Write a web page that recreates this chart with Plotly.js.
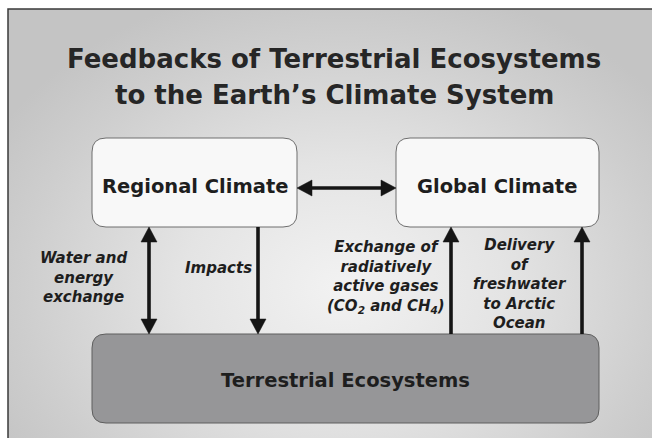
<!DOCTYPE html>
<html>
<head>
<meta charset="utf-8">
<script src="https://cdn.plot.ly/plotly-3.0.1.min.js"></script>
<style>
  html, body { margin: 0; padding: 0; background: #ffffff; }
  #wrap { position: relative; width: 652px; height: 438px; overflow: hidden; }
  #bg { position: absolute; left: 8px; top: 9px; width: 700px; height: 440px;
        background: radial-gradient(ellipse 400px 310px at 335px 278px, #f2f2f2 0%, #e4e4e4 40%, #cecece 80%, #c4c4c4 100%); }
  #chart { position: absolute; left: 0; top: 0; width: 652px; height: 438px; }
</style>
</head>
<body>
<div id="wrap"><div id="bg"></div><div id="chart"></div></div>
<script>
// ---- content ----
const titleLines = ['Feedbacks of Terrestrial Ecosystems', 'to the Earth\u2019s Climate System'];
const nodeNames = ['Regional Climate', 'Global Climate', 'Terrestrial Ecosystems'];
const linkLabels = [
  'Water and<br>energy<br>exchange',
  'Impacts',
  'Exchange of<br>radiatively<br>active gases<br>(CO<sub>2</sub> and CH<sub>4</sub>)',
  'Delivery<br>of<br>freshwater<br>to Arctic<br>Ocean'
];

// ---- layout geometry (pixel-like coordinates, y downward) ----
const boxes = [
  {x0: 92, x1: 297, y0: 138, y1: 227, r: 14, fill: '#f8f8f8', line: '#6e6e6e', tx: 195, ty: 186},
  {x0: 396, x1: 599, y0: 138, y1: 227, r: 14, fill: '#f8f8f8', line: '#6e6e6e', tx: 497, ty: 186},
  {x0: 92, x1: 599, y0: 334, y1: 423, r: 14, fill: '#969698', line: '#5e5e5e', tx: 345, ty: 380}
];
const labelPos = [
  {x: 83, y: 277}, {x: 218, y: 268}, {x: 386, y: 277}, {x: 520, y: 284}
];
// arrows: [x0,y0,x1,y1, headAtStart, headAtEnd]
const arrows = [
  [297, 188, 396, 188, true, true],
  [149, 227, 149, 334, true, true],
  [258, 227, 258, 334, false, true],
  [451, 334, 451, 227, false, true],
  [582, 334, 582, 227, false, true]
];

function roundRect(b) {
  const {x0, x1, y0, y1, r} = b;
  return `M${x0 + r},${y0} L${x1 - r},${y0} Q${x1},${y0} ${x1},${y0 + r} L${x1},${y1 - r} Q${x1},${y1} ${x1 - r},${y1} L${x0 + r},${y1} Q${x0},${y1} ${x0},${y1 - r} L${x0},${y0 + r} Q${x0},${y0} ${x0 + r},${y0} Z`;
}

const shapes = [];
// outer frame
shapes.push({type: 'rect', xref: 'x', yref: 'y', x0: 8, x1: 700, y0: 9, y1: 445,
  line: {color: '#3a3a3a', width: 1.5}, fillcolor: 'rgba(0,0,0,0)', layer: 'below'});
boxes.forEach(b => shapes.push({type: 'path', xref: 'x', yref: 'y', path: roundRect(b),
  fillcolor: b.fill, line: {color: b.line, width: 1}}));

const HL = 15, HW = 8, LW = 3.6, AC = '#151515';
function head(tipX, tipY, dx, dy) {
  const bx = tipX - dx * HL, by = tipY - dy * HL;
  const px = -dy * HW, py = dx * HW;
  return `M${tipX},${tipY} L${bx + px},${by + py} L${bx - px},${by - py} Z`;
}
arrows.forEach(a => {
  let [x0, y0, x1, y1, hs, he] = a;
  const len = Math.hypot(x1 - x0, y1 - y0);
  const dx = (x1 - x0) / len, dy = (y1 - y0) / len;
  const lx0 = hs ? x0 + dx * (HL - 2) : x0, ly0 = hs ? y0 + dy * (HL - 2) : y0;
  const lx1 = he ? x1 - dx * (HL - 2) : x1, ly1 = he ? y1 - dy * (HL - 2) : y1;
  shapes.push({type: 'line', xref: 'x', yref: 'y', x0: lx0, y0: ly0, x1: lx1, y1: ly1,
    line: {color: AC, width: LW}});
  if (hs) shapes.push({type: 'path', xref: 'x', yref: 'y', path: head(x0, y0, -dx, -dy),
    fillcolor: AC, line: {color: AC, width: 0.5}});
  if (he) shapes.push({type: 'path', xref: 'x', yref: 'y', path: head(x1, y1, dx, dy),
    fillcolor: AC, line: {color: AC, width: 0.5}});
});

const FF = 'DejaVu Sans';
const annotations = [];
annotations.push({xref: 'x', yref: 'y', x: 334, y: 58.5, text: '<b>' + titleLines[0] + '</b>',
  showarrow: false, xanchor: 'center', yanchor: 'middle', font: {family: FF, size: 26, color: '#262626'}});
annotations.push({xref: 'x', yref: 'y', x: 334, y: 95, text: '<b>' + titleLines[1] + '</b>',
  showarrow: false, xanchor: 'center', yanchor: 'middle', font: {family: FF, size: 26, color: '#262626'}});
nodeNames.forEach((n, i) => annotations.push({xref: 'x', yref: 'y', x: boxes[i].tx, y: boxes[i].ty,
  text: '<b>' + n + '</b>', showarrow: false, xanchor: 'center', yanchor: 'middle',
  font: {family: FF, size: 19.5, color: '#1e1e1e'}}));
linkLabels.forEach((t, i) => annotations.push({xref: 'x', yref: 'y', x: labelPos[i].x, y: labelPos[i].y,
  text: '<b><i>' + t + '</i></b>', showarrow: false, xanchor: 'center', yanchor: 'middle', align: 'center',
  font: {family: FF, size: 15, color: '#1e1e1e'}}));

const layout = {
  width: 652, height: 438,
  margin: {l: 0, r: 0, t: 0, b: 0, pad: 0},
  paper_bgcolor: 'rgba(0,0,0,0)', plot_bgcolor: 'rgba(0,0,0,0)',
  xaxis: {range: [0, 652], visible: false, fixedrange: true},
  yaxis: {range: [438, 0], visible: false, fixedrange: true},
  shapes: shapes, annotations: annotations, showlegend: false
};
Plotly.newPlot('chart', [{x: [], y: [], type: 'scatter', mode: 'markers', hoverinfo: 'skip'}], layout,
  {staticPlot: true, displayModeBar: false});
</script>
</body>
</html>
